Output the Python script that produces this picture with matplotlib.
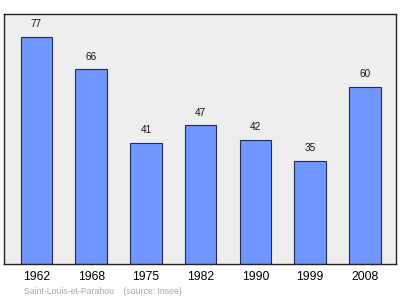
import matplotlib
matplotlib.use("Agg")
import matplotlib.pyplot as plt

plt.rcParams['font.family'] = ['Liberation Sans', 'DejaVu Sans']

years = ["1962", "1968", "1975", "1982", "1990", "1999", "2008"]
population = [77, 66, 41, 47, 42, 35, 60]

fig = plt.figure(figsize=(4.0, 2.99), dpi=100)
ax = fig.add_axes([4/400, 1 - 264/299, 391.7/400, 250/299])
ax.set_facecolor('#eeeeee')

x = range(len(years))
ax.bar(x, population, width=0.576, color='#7196ff', edgecolor='#1f2a55', linewidth=0.8)
for i, v in zip(x, population):
    ax.text(i, v + 2.6, str(v), ha='center', va='bottom', fontsize=7.2, color='#111111')

ax.set_xlim(-0.594, 6.565)
ax.set_ylim(0, 84.7)
ax.set_xticks(list(x))
ax.set_xticklabels(years, fontsize=8.8)
ax.tick_params(axis='x', length=0, pad=5)
ax.set_yticks([])
for s in ax.spines.values():
    s.set_color('#222222')
    s.set_linewidth(1.0)

fig.text(24/400, 1 - 292/299, "Saint-Louis-et-Parahou    (source: Insee)",
         fontsize=6.3, color='#aaaaaa', va='center', ha='left')

fig.savefig("out.png", dpi=100)
